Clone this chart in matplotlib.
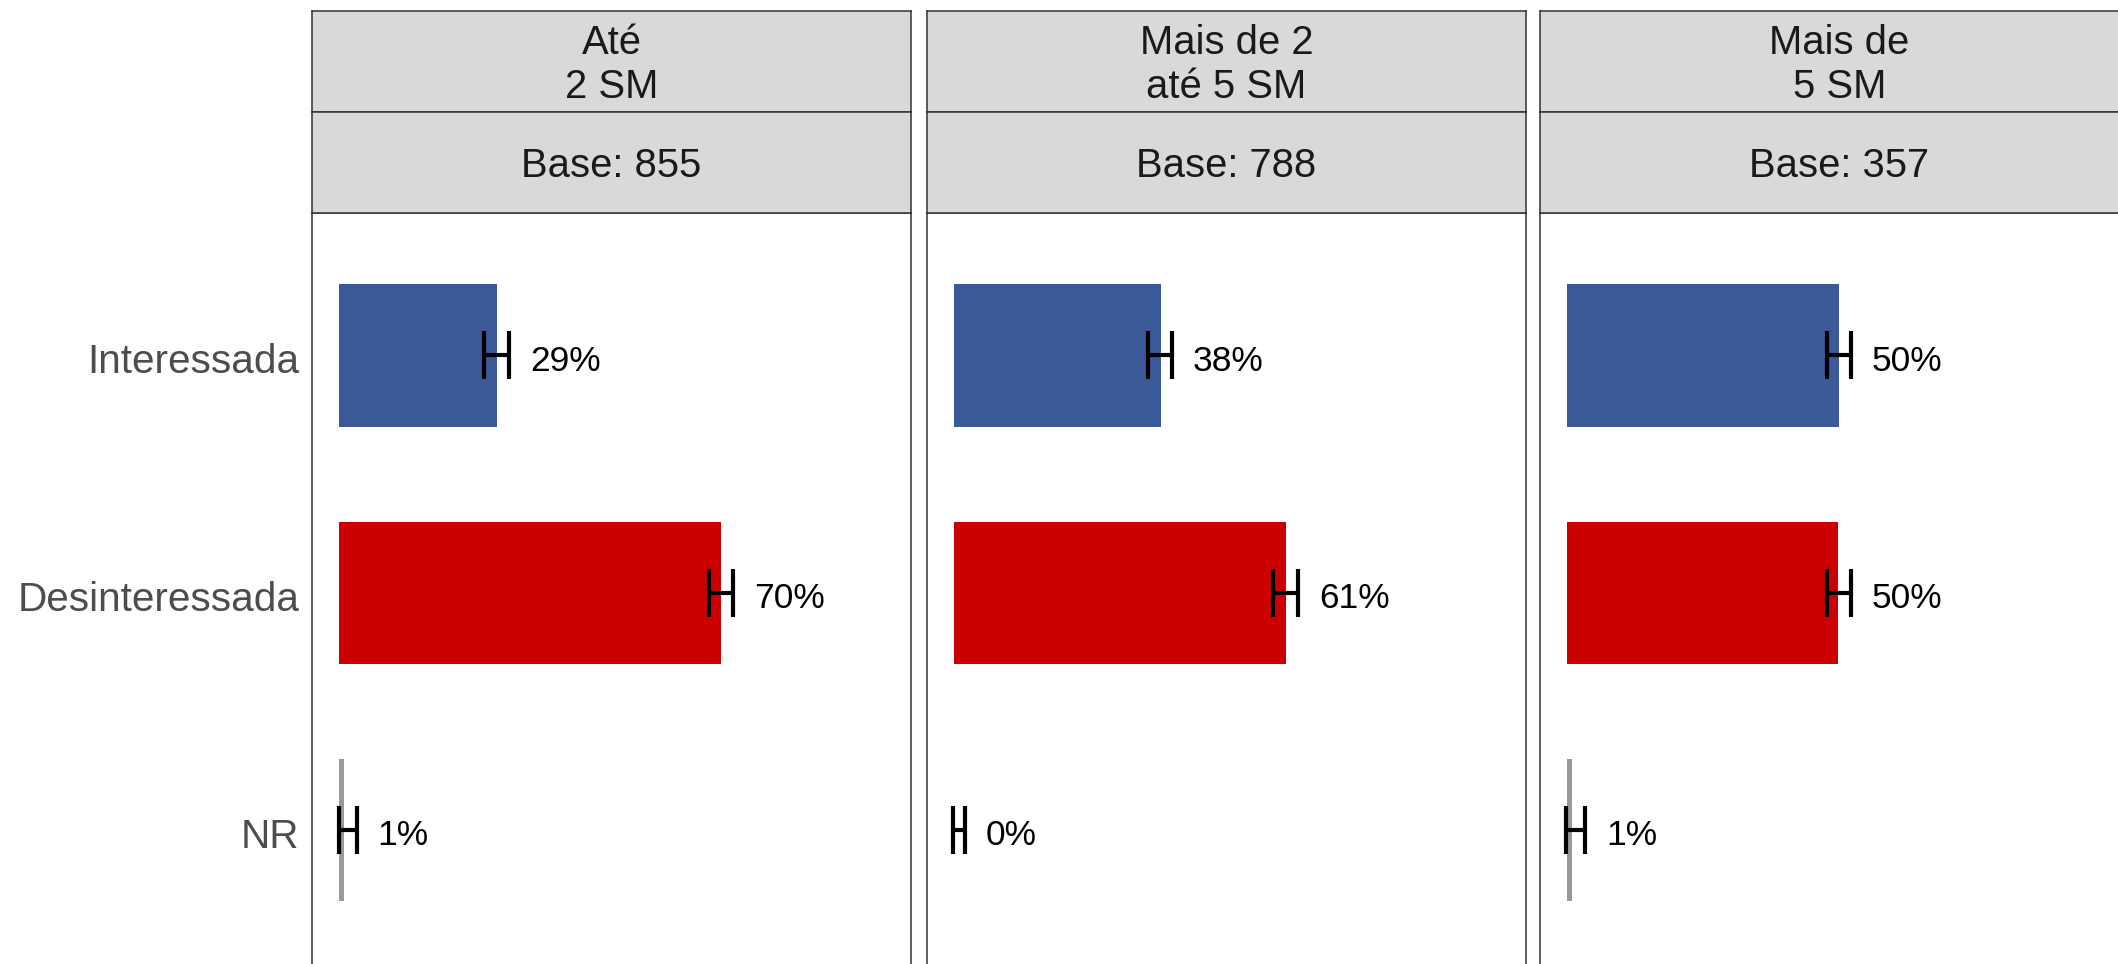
import matplotlib
matplotlib.use("Agg")
import matplotlib.pyplot as plt
import matplotlib.transforms as mtransforms

plt.rcParams['font.family'] = ['Liberation Sans', 'DejaVu Sans']

# dados
categorias = ["Interessada", "Desinteressada", "NR"]
grupos = ["Até\n2 SM", "Mais de 2\naté 5 SM", "Mais de\n5 SM"]
bases = [855, 788, 357]

valores_1 = [28.9, 70.2, 0.9]
valores_2 = [37.9, 60.9, 0.0]
valores_3 = [49.9, 49.7, 0.9]

inferior_1 = [26.5, 67.9, -0.1]
superior_1 = [31.2, 72.4, 3.2]
inferior_2 = [35.6, 58.6, -0.2]
superior_2 = [40.0, 63.2, 1.9]
inferior_3 = [47.7, 47.7, -0.2]
superior_3 = [52.1, 52.1, 3.3]

rotulos_1 = ["29%", "70%", "1%"]
rotulos_2 = ["38%", "61%", "0%"]
rotulos_3 = ["50%", "50%", "1%"]

valores = [valores_1, valores_2, valores_3]
inferiores = [inferior_1, inferior_2, inferior_3]
superiores = [superior_1, superior_2, superior_3]
rotulos = [rotulos_1, rotulos_2, rotulos_3]

cores = ["#3B5998", "#CC0000", "#999999"]
borda = "#333333"

W, H = 2118, 964
fig = plt.figure(figsize=(W / 100, H / 100), dpi=100)
fig.patch.set_facecolor("white")

esquerdas = [312, 927, 1540]
largura = 599
topo_strip, meio_strip, fim_strip = 11, 112, 213
fundo = 972.6

for i in range(3):
    l = esquerdas[i]
    ax = fig.add_axes([l / W, 1 - fundo / H, largura / W, (fundo - fim_strip) / H])
    y = list(range(len(categorias)))
    ax.barh(y, valores[i], height=0.6, color=cores)
    xerr = [[v - lo for v, lo in zip(valores[i], inferiores[i])],
            [hi - v for v, hi in zip(valores[i], superiores[i])]]
    ax.errorbar(valores[i], y, xerr=xerr, fmt='none', ecolor='black',
                elinewidth=3.0, capsize=17.5, capthick=3.0)
    for yy, hi, txt in zip(y, superiores[i], rotulos[i]):
        ax.annotate(txt, (hi, yy), xytext=(15, -1.5), textcoords='offset points',
                    ha='left', va='center_baseline', fontsize=25.5, color='black')
    ax.set_xlim(-5, 105)
    ax.set_ylim(2.6, -0.6)
    ax.set_xticks([])
    if i == 0:
        ax.set_yticks(y)
        ax.set_yticklabels(categorias, fontsize=29.2, color="#4D4D4D")
        ax.tick_params(axis='y', length=0, pad=9)
        desloc = mtransforms.ScaledTranslation(0, -3 / 100, fig.dpi_scale_trans)
        for lab in ax.get_yticklabels():
            lab.set_transform(lab.get_transform() + desloc)
    else:
        ax.set_yticks([])
    for s in ax.spines.values():
        s.set_color(borda)
        s.set_linewidth(1.1)

    # faixas de título
    s1 = fig.add_axes([l / W, 1 - meio_strip / H, largura / W, (meio_strip - topo_strip) / H])
    s2 = fig.add_axes([l / W, 1 - fim_strip / H, largura / W, (fim_strip - meio_strip) / H])
    for s, txt in [(s1, grupos[i]), (s2, "Base: %d" % bases[i])]:
        s.set_facecolor("#D9D9D9")
        s.set_xticks([])
        s.set_yticks([])
        for sp in s.spines.values():
            sp.set_color(borda)
            sp.set_linewidth(1.1)
        s.text(0.5, 0.47, txt, transform=s.transAxes, ha='center', va='center',
               fontsize=28.8, color="#1A1A1A", linespacing=1.2)

fig.savefig("out.png", dpi=100)
